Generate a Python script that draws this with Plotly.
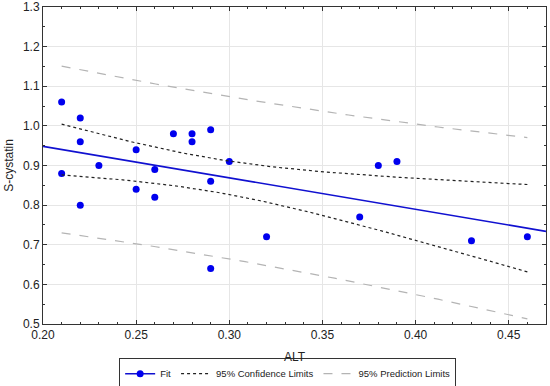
import numpy as np
import plotly.graph_objects as go

alt = [0.21, 0.22, 0.22, 0.23, 0.21, 0.25, 0.26, 0.27, 0.28, 0.28, 0.29, 0.30, 0.29,
       0.22, 0.25, 0.26, 0.29, 0.32, 0.38, 0.39, 0.37, 0.43, 0.46]
cys = [1.06, 1.02, 0.96, 0.90, 0.88, 0.94, 0.89, 0.98, 0.98, 0.96, 0.99, 0.91, 0.86,
       0.80, 0.84, 0.82, 0.64, 0.72, 0.90, 0.91, 0.77, 0.71, 0.72]
x_ticks = [0.20, 0.25, 0.30, 0.35, 0.40, 0.45]
y_ticks = [0.5, 0.6, 0.7, 0.8, 0.9, 1.0, 1.1, 1.2, 1.3]
x_title = "ALT"
y_title = "S-cystatin"

x = np.array(alt)
y = np.array(cys)
n = len(x)
b1, b0 = np.polyfit(x, y, 1)
resid = y - (b0 + b1 * x)
s = np.sqrt(np.sum(resid ** 2) / (n - 2))
sxx = np.sum((x - x.mean()) ** 2)
t = 2.079614  # t(0.975, 21)

xf = np.linspace(0.20, 0.47, 100)
xb = np.linspace(x.min(), x.max(), 100)
yb = b0 + b1 * xb
se_c = s * np.sqrt(1 / n + (xb - x.mean()) ** 2 / sxx)
se_p = s * np.sqrt(1 + 1 / n + (xb - x.mean()) ** 2 / sxx)

FONT = "Liberation Sans, Arial"

fig = go.Figure()
fig.add_trace(go.Scatter(x=x, y=y, mode="markers", marker=dict(color="#0000ee", size=7),
                         showlegend=False))
fig.add_trace(go.Scatter(x=xf, y=b0 + b1 * xf, mode="lines", line=dict(color="#1010d0", width=1.6),
                         name="Fit", showlegend=False))
fig.add_trace(go.Scatter(x=[None], y=[None], mode="lines+markers",
                         line=dict(color="#1010d0", width=1.6),
                         marker=dict(color="#0000ee", size=7), name="Fit"))
fig.add_trace(go.Scatter(x=xb, y=yb + t * se_c, mode="lines",
                         line=dict(color="#222222", width=1.2, dash="dot"),
                         name="95% Confidence Limits"))
fig.add_trace(go.Scatter(x=xb, y=yb - t * se_c, mode="lines",
                         line=dict(color="#222222", width=1.2, dash="dot"), showlegend=False))
fig.add_trace(go.Scatter(x=xb, y=yb + t * se_p, mode="lines",
                         line=dict(color="#b4b4b4", width=1.2, dash="dash"),
                         name="95% Prediction Limits"))
fig.add_trace(go.Scatter(x=xb, y=yb - t * se_p, mode="lines",
                         line=dict(color="#b4b4b4", width=1.2, dash="dash"), showlegend=False))

axis_common = dict(showline=True, linecolor="#333333", linewidth=1, mirror="ticks",
                   ticks="inside", ticklen=4, tickcolor="#333333",
                   showgrid=True, gridcolor="#e6e6e6", gridwidth=1, zeroline=False,
                   automargin=False,
                   tickfont=dict(family=FONT, size=12, color="#222222"))

fig.update_xaxes(range=[0.20, 0.47], tickvals=x_ticks, tickformat=".2f",
                 minor=dict(ticks="inside", dtick=0.01, ticklen=2, tickcolor="#333333", showgrid=False),
                 **axis_common)
fig.update_yaxes(range=[0.5, 1.3], tickvals=y_ticks, tickformat=".1f",
                 minor=dict(ticks="inside", dtick=0.05, ticklen=2, tickcolor="#333333", showgrid=False),
                 title=dict(text=y_title, font=dict(family=FONT, size=12, color="#222222"),
                            standoff=6),
                 **axis_common)

fig.add_annotation(text=x_title, xref="paper", x=0.5, xanchor="center",
                   yref="paper", y=-0.104, yanchor="middle", showarrow=False,
                   font=dict(family=FONT, size=12, color="#222222"))

fig.update_layout(
    width=550, height=386,
    margin=dict(l=43, r=4, t=7, b=62),
    paper_bgcolor="white", plot_bgcolor="white",
    legend=dict(orientation="h", x=0.523, xanchor="center", xref="container",
                y=0.072, yanchor="top", yref="container",
                bordercolor="#333333", borderwidth=1,
                font=dict(family=FONT, size=9.5, color="#222222"),
                itemwidth=30, tracegroupgap=0),
)

fig.write_html("out.html", config={"displayModeBar": False},
               post_script="document.body.style.margin='0';")
